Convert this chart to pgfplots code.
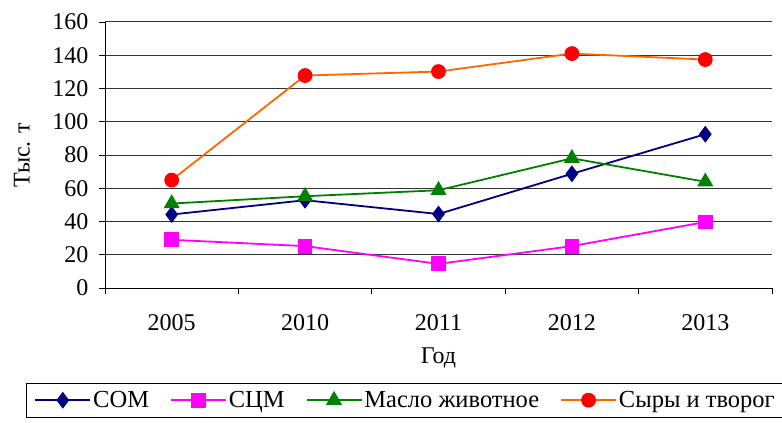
\documentclass[border=0pt]{standalone}
\usepackage{fontspec}
\setmainfont{Liberation Serif}
\usepackage{pgfplots}
\pgfplotsset{compat=1.18}
\definecolor{cnavy}{RGB}{0,0,128}
\definecolor{cmag}{RGB}{255,0,255}
\definecolor{cgreen}{RGB}{0,128,0}
\definecolor{corange}{RGB}{255,102,0}
\definecolor{cred}{RGB}{255,0,0}
\begin{document}
\begin{tikzpicture}
\useasboundingbox (-105bp,-135bp) rectangle (677bp,288bp);
\begin{axis}[
  at={(0,0)}, anchor=south west,
  scale only axis, width=667bp, height=266bp,
  xmin=-0.5, xmax=4.5, ymin=0, ymax=160,
  ytick={0,20,...,160},
  xtick={0,...,4}, xticklabels={2005,2010,2011,2012,2013},
  minor xtick={-0.5,0.5,...,4.5},
  major x tick style={draw=none},
  minor x tick style={black, line width=0.8bp},
  major y tick style={black, line width=0.8bp},
  tick align=outside, major tick length=6bp, minor tick length=6bp,
  axis x line*=bottom, axis y line*=left,
  axis line style={-, black, line width=0.8bp},
  ymajorgrids, grid style={black!80, line width=1bp},
  font=\rmfamily\fontsize{24bp}{28bp}\selectfont,
  /pgf/number format/assume math mode=true,
  yticklabel style={xshift=-7bp},
  xticklabel style={yshift=-17bp},
  xlabel={Год}, ylabel={Тыс. т},
  every axis x label/.style={at={(axis description cs:0.5,-0.262)}, anchor=center},
  every axis y label/.style={at={(axis description cs:-0.1244,0.5)}, anchor=center, rotate=90},
  legend columns=4,
  legend style={at={(axis description cs:-0.1184,-0.357)}, anchor=north west, draw=black, line width=0.8bp,
    font=\rmfamily\fontsize{24.5bp}{28bp}\selectfont, inner xsep=8bp, inner ysep=6bp,
    /tikz/every even column/.append style={column sep=19bp}},
  legend image code/.code={\draw[mark repeat=2,mark phase=2] plot coordinates {(0bp,0bp) (27.5bp,0bp) (55bp,0bp)};},
  every axis plot/.append style={line width=1.8bp},
]
\addplot[cnavy, mark=diamond*, mark size=7bp, mark options={fill=cnavy}] coordinates {(0,44.2) (1,52.8) (2,44.5) (3,68.7) (4,92.5)};
\addlegendentry{СОМ}
\addplot[cmag, mark=square*, mark size=6.5bp, mark options={fill=cmag}] coordinates {(0,29.0) (1,25.2) (2,14.5) (3,25.2) (4,39.7)};
\addlegendentry{СЦМ}
\addplot[cgreen, mark=triangle*, mark size=7.5bp, mark options={fill=cgreen}] coordinates {(0,50.8) (1,55.2) (2,58.8) (3,78.0) (4,63.9)};
\addlegendentry{Масло животное}
\addplot[corange, mark=*, mark size=6.5bp, mark options={fill=cred, draw=cred}] coordinates {(0,64.9) (1,127.8) (2,130.2) (3,141.0) (4,137.4)};
\addlegendentry{Сыры и творог}
\end{axis}
\end{tikzpicture}
\end{document}
